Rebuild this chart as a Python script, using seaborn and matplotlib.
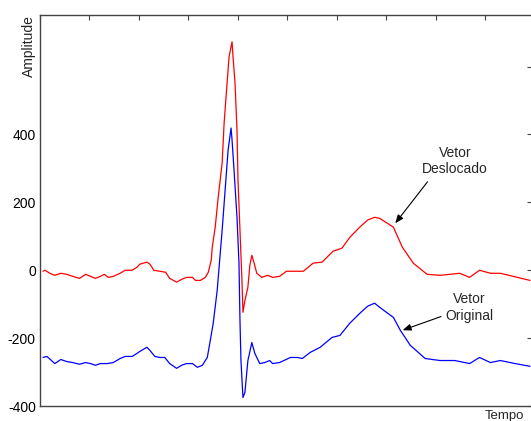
import matplotlib
matplotlib.use("Agg")
import matplotlib.pyplot as plt
import seaborn as sns

# sinal deslocado (vermelho)
t_deslocado = [3, 5, 10, 15, 21, 27, 33, 40, 46, 51, 56, 61, 65, 69, 74, 81, 86, 93, 98, 101,
               108, 111, 115, 121, 127, 131, 138, 143, 148, 154, 157, 162, 167, 170, 173, 174,
               177, 180, 184, 186, 189, 191, 194, 195, 197, 199, 200, 202, 204, 205, 207, 210,
               212, 214, 216, 219, 224, 230, 235, 242, 249, 266, 276, 285, 296, 305, 313, 323,
               331, 338, 343, 357, 366, 377, 391, 404, 414, 424, 434, 444, 455, 465, 478, 495]
amp_deslocado = [-3, 0, -9, -15, -9, -12, -18, -24, -12, -18, -24, -18, -12, -21, -18, -9, 0, 0, 9, 18,
                 24, 18, 0, -3, -6, -24, -35, -27, -21, -21, -30, -30, -21, -6, 30, 68,
                 127, 215, 316, 434, 552, 629, 673, 629, 552, 413, 266, 118, -30, -124, -89, -50,
                 15, 44, 24, -9, -21, -15, -21, -18, -3, -3, 21, 24, 56, 65, 97, 127,
                 148, 156, 153, 127, 68, 21, -12, -15, -12, -9, -21, 0, -9, -9, -18, -30]

# sinal original (azul)
t_original = [3, 7, 15, 21, 27, 33, 40, 46, 51, 56, 61, 68, 74, 81, 86, 93, 98, 101, 108, 111,
              116, 121, 126, 131, 138, 143, 148, 154, 159, 164, 169, 172, 175, 179, 184, 187,
              190, 193, 194, 196, 199, 201, 202, 203, 205, 207, 210, 214, 217, 222, 227, 232,
              235, 242, 253, 260, 265, 273, 283, 295, 303, 313, 323, 331, 338, 343, 357, 364,
              374, 389, 404, 419, 434, 444, 455, 465, 480, 495]
amp_original = [-257, -254, -275, -263, -269, -272, -277, -272, -275, -280, -275, -275, -272, -260, -254, -254, -245, -239, -227, -236,
                -254, -257, -257, -275, -289, -280, -275, -275, -286, -280, -257, -207, -156, -59, 118, 236,
                354, 419, 384, 295, 156, 21, -148, -266, -375, -360, -266, -213, -245, -275, -272, -266,
                -275, -272, -257, -257, -260, -242, -227, -198, -192, -156, -127, -106, -97, -109, -139, -177,
                -221, -260, -266, -266, -275, -257, -272, -266, -275, -283]

yticks = [-400, -200, 0, 200, 400, 600]
ytick_labels = ["-400", "-200", "0", "200", "400", ""]
xticks = [0, 50, 100, 150, 200, 250, 300, 350, 400, 450]

sns.set_style("white")
plt.rcParams["font.family"] = ["Liberation Sans", "DejaVu Sans"]

fig = plt.figure(figsize=(5.31, 4.21), dpi=100)
ax = fig.add_axes([40 / 531, 15 / 421, 492 / 531, 391 / 421])

sns.lineplot(x=t_deslocado, y=amp_deslocado, color="red", linewidth=0.9,
             estimator=None, ax=ax)
sns.lineplot(x=t_original, y=amp_original, color="blue", linewidth=0.9,
             estimator=None, ax=ax)

ax.set_xlim(0, 497)
ax.set_ylim(-400, 752)
ax.set_xticks(xticks)
ax.set_xticklabels([])
ax.set_yticks(yticks)
ax.set_yticklabels(ytick_labels)

for s in ax.spines.values():
    s.set_color("#444444")
    s.set_linewidth(1.0)
ax.tick_params(direction="in", length=3.5, width=0.8, color="#444444",
               top=True, right=True, labelsize=10, labelcolor="black", pad=3)

ax.set_xlabel("Tempo", loc="right", fontsize=9.5, labelpad=0)
ax.xaxis.label.set_x(0.985)
ax.set_ylabel("Amplitude", loc="top", fontsize=10)
ax.yaxis.set_label_coords(-0.008, 1.0)

ax.annotate("Vetor\nDeslocado", xy=(358, 135), xytext=(419, 322),
            ha="center", va="center", fontsize=10, linespacing=1.25,
            arrowprops=dict(arrowstyle="-|>,head_length=0.5,head_width=0.2",
                            color="black", lw=0.8, relpos=(0.15, 0.0),
                            shrinkA=2, shrinkB=1))
ax.annotate("Vetor\nOriginal", xy=(365, -178), xytext=(434, -109),
            ha="center", va="center", fontsize=10, linespacing=1.25,
            arrowprops=dict(arrowstyle="-|>,head_length=0.5,head_width=0.2",
                            color="black", lw=0.8, relpos=(0.0, 0.25),
                            shrinkA=1, shrinkB=1))

fig.savefig("out.png", dpi=100)
